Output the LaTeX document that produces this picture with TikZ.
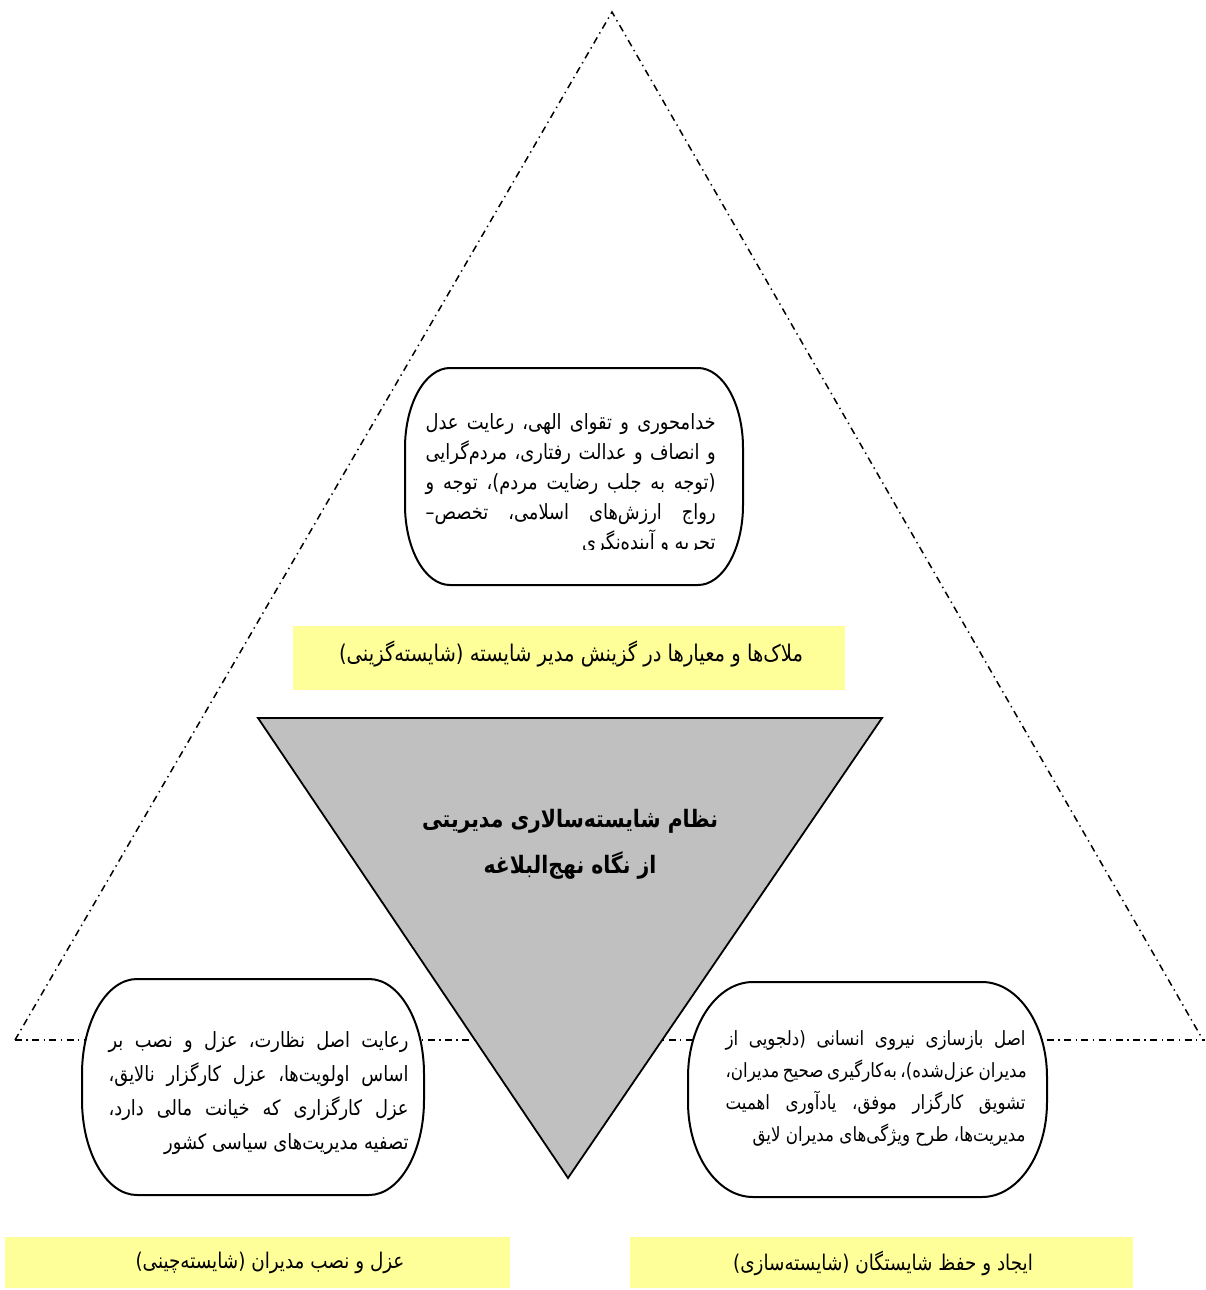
\documentclass[tikz,border=0pt]{standalone}
\usepackage{fontspec}
\TeXXeTstate=1
\newfontfamily\arabicfont[Script=Arabic,FakeStretch=0.85]{DejaVu Sans}
\definecolor{yellowbox}{HTML}{FFFF99}
\definecolor{graytri}{HTML}{C0C0C0}
\newlength\jw
\newcommand\jl[1]{\hbox to \jw{\beginR #1\endR}}
\newcommand\nl[1]{\hbox{\beginR #1\endR}}
\newcommand\ovbox[6]{\draw[rbox] (#1+#5,#2) -- (#3-#5,#2)
  arc[start angle=-90,end angle=0,x radius=#5,y radius=#6] -- (#3,#4-#6)
  arc[start angle=0,end angle=90,x radius=#5,y radius=#6] -- (#1+#5,#4)
  arc[start angle=90,end angle=180,x radius=#5,y radius=#6] -- (#1,#2+#6)
  arc[start angle=180,end angle=270,x radius=#5,y radius=#6] -- cycle;}
\tikzset{
  bigtri/.style={line width=0.75pt, dash pattern=on 3.5pt off 2.2pt on 0.7pt off 2.2pt},
  graytristyle/.style={fill=graytri, draw=black, line width=0.9pt, line join=miter},
  rbox/.style={draw=black, line width=1pt, fill=white},
  ytab/.style={fill=yellowbox, draw=none},
  txt/.style={font=\arabicfont\fontsize{10.5}{15}\selectfont, align=right, inner sep=0pt},
  bigtxt/.style={font=\arabicfont\fontsize{11.5}{15}\selectfont, inner sep=0pt},
  smalltab/.style={font=\arabicfont\fontsize{10.8}{15}\selectfont, inner sep=0pt},
  ctrtxt/.style={font=\arabicfont\bfseries\fontsize{12}{23}\selectfont, align=center, inner sep=0pt},
}
\begin{document}
\begin{tikzpicture}[x=0.5pt,y=-0.5pt]
\useasboundingbox (0,0) rectangle (1205,1290);
% big dash-dot triangle
\coordinate (apex) at (612,12);
\coordinate (bl) at (15,1040);
\coordinate (br) at (1203,1040);
\draw[bigtri] (bl) -- (apex) -- (br);
\draw[bigtri] (bl) -- (1205,1040);
% gray inverted triangle
\coordinate (g1) at (258,718);
\coordinate (g2) at (882,718);
\coordinate (g3) at (568,1178);
\draw[graytristyle] (g1) -- (g2) -- (g3) -- cycle;
% rounded boxes
\ovbox{405}{368}{743}{585}{45}{80}
\ovbox{82}{979}{424}{1195}{55}{95}
\ovbox{688}{982}{1047}{1197}{65}{95}
% yellow tabs
\fill[ytab] (293,626) rectangle (845,690);
\fill[ytab] (5,1237) rectangle (510,1288);
\fill[ytab] (630,1237) rectangle (1133,1288);
% texts
\begin{scope}
\clip (405,368) rectangle (743,549);
\setlength\jw{145pt}
\node[txt, anchor=north east] (ttop) at (716,413) {%
\jl{خدامحوری و تقوای الهی، رعایت عدل}\\
\jl{و انصاف و عدالت رفتاری، مردم‌گرایی}\\
\jl{(توجه به جلب رضایت مردم)، توجه و}\\
\jl{رواج ارزش‌های اسلامی، تخصص–}\\
\nl{تجربه و آینده‌نگری}};
\end{scope}
\setlength\jw{150pt}
\node[txt, anchor=north east, font=\arabicfont\fontsize{10.5}{17}\selectfont] (tbl) at (409,1031) {%
\jl{رعایت اصل نظارت، عزل و نصب بر}\\
\jl{اساس اولویت‌ها، عزل کارگزار نالایق،}\\
\jl{عزل کارگزاری که خیانت مالی دارد،}\\
\nl{تصفیه مدیریت‌های سیاسی کشور}};
\setlength\jw{150pt}
\node[txt, anchor=north east, font=\arabicfont\fontsize{9.8}{16}\selectfont] (tbr) at (1026,1030) {%
\jl{اصل بازسازی نیروی انسانی (دلجویی از}\\
\jl{مدیران عزل‌شده)، به‌کارگیری صحیح مدیران،}\\
\jl{تشویق کارگزار موفق، یادآوری اهمیت}\\
\nl{مدیریت‌ها، طرح ویژگی‌های مدیران لایق}};
\node[bigtxt] (ytop) at (571,654) {\beginR ملاک‌ها و معیارها در گزینش مدیر شایسته (شایسته‌گزینی)\endR};
\node[smalltab] (ybl) at (270,1263) {\beginR عزل و نصب مدیران (شایسته‌چینی)\endR};
\node[smalltab] (ybr) at (883,1263) {\beginR ایجاد و حفظ شایستگان (شایسته‌سازی)\endR};
\node[ctrtxt] (ctr) at (570,844) {\beginR نظام شایسته‌سالاری مدیریتی\endR\\ \beginR از نگاه نهج‌البلاغه\endR};
\end{tikzpicture}
\end{document}
